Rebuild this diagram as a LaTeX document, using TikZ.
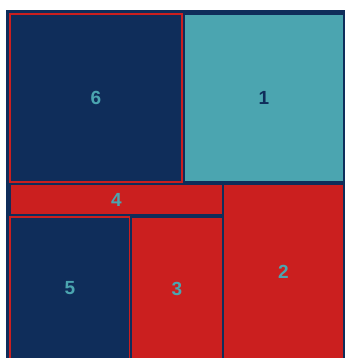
\documentclass[tikz,border=0pt]{standalone}
\usepackage{fontspec}
\setmainfont{Liberation Sans}
\usepackage{xcolor}
\usepackage{tikz}
\definecolor{navy}{RGB}{15, 45, 90}
\definecolor{teal}{RGB}{75, 165, 176}
\definecolor{brick}{RGB}{203, 31, 31}

\begin{document}
\begin{tikzpicture}[
    x=1pt, y=1pt,
    cell/.style={rectangle, inner sep=0pt, outer sep=0pt, line width=1.5pt, font=\fontsize{19}{19}\selectfont\bfseries},
    dark/.style={cell, fill=navy, draw=brick, text=teal},
    light/.style={cell, fill=teal, draw=navy, text=navy},
    warm/.style={cell, fill=brick, draw=navy, text=teal}
]
\useasboundingbox (0,0) rectangle (345,-358);
\fill[navy] (6,-10) rectangle (345,-358);
\node[dark, minimum width=172, minimum height=168] (c6) at (96,-98) {6};
\node[light, minimum width=160, minimum height=168] (c1) at (264,-98) {1};
\node[warm, minimum width=213, minimum height=31] (c4) at (116.5,-199.5) {4};
\node[warm, minimum width=121, minimum height=176] (c2) at (283.5,-272) {2};
\node[dark, minimum width=120, minimum height=143] (c5) at (70,-288.5) {5};
\node[warm, minimum width=92, minimum height=143] (c3) at (177,-288.5) {3};
\end{tikzpicture}
\end{document}
